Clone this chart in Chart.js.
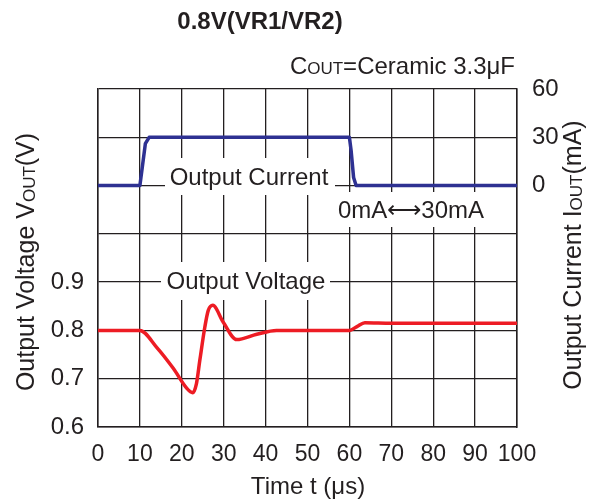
<!DOCTYPE html>
<html>
<head>
<meta charset="utf-8">
<script src="https://cdn.jsdelivr.net/npm/chart.js@4.4.1/dist/chart.umd.min.js"></script>
<style>
  html, body { margin: 0; padding: 0; background: #fff; }
  #wrap { width: 596px; height: 502px; }
</style>
</head>
<body>
<div id="wrap"><canvas id="chart" width="596" height="502"></canvas></div>
<script>
// time axis (us) and output voltage (V)
const timeV = [0, 10, 14, 18, 21.2, 22.6, 23.5, 24.3, 25.5, 26.3, 27.4, 29.9, 33.1, 37.9, 42.6, 60, 61.8, 63.7, 70, 100];
const voltage = [0.8, 0.8, 0.765, 0.721, 0.68, 0.671, 0.69, 0.738, 0.807, 0.841, 0.852, 0.817, 0.781, 0.792, 0.8, 0.8, 0.808, 0.816, 0.815, 0.815];

// load step 0mA <-> 30mA
const timeI = [0, 10, 10.6, 11.3, 12.2, 60, 60.4, 61, 61.6, 100];
const current = [0, 0, 12, 26, 30, 30, 22, 5, 0, 0];

const voltLabels = ['0.6', '0.7', '0.8', '0.9'];
const currLabels = ['0', '30', '60'];

const FONT = '"Liberation Sans", Arial, Helvetica, sans-serif';
const INK = '#231f20';

// draw text made of pieces with different sizes (for the small "OUT")
function drawRich(ctx, parts, x, y, rot, align) {
  ctx.save();
  ctx.translate(x, y);
  ctx.rotate(rot);
  let total = 0;
  parts.forEach(p => { ctx.font = p.font; p.w = ctx.measureText(p.text).width; total += p.w; });
  let cx = align === 'right' ? -total : align === 'left' ? 0 : -total / 2;
  ctx.textBaseline = 'middle';
  ctx.textAlign = 'left';
  ctx.fillStyle = INK;
  parts.forEach(p => {
    ctx.font = p.font;
    ctx.fillText(p.text, cx, p.dy || 0);
    cx += p.w;
  });
  ctx.restore();
}

const big = '24px ' + FONT;
const small = '17px ' + FONT;
const axisBig = '25px ' + FONT;
const axisSmall = '17px ' + FONT;

const labelsPlugin = {
  id: 'labels',
  beforeDatasetsDraw(chart) {
    const ctx = chart.ctx;
    // white boxes behind the in-plot labels
    ctx.save();
    ctx.fillStyle = '#fff';
    ctx.fillRect(165, 158, 170, 37);
    ctx.fillRect(330, 192, 172, 35);
    ctx.fillRect(161, 262, 169, 38);
    ctx.restore();
    drawRich(ctx, [{ text: 'Output Current', font: big }], 249, 178, 0, 'center');
    drawRich(ctx, [{ text: '0mA\u27F730mA', font: big }], 411, 211, 0, 'center');
    drawRich(ctx, [{ text: 'Output Voltage', font: big }], 246, 282, 0, 'center');
  },
  afterDraw(chart) {
    const ctx = chart.ctx;
    drawRich(ctx, [{ text: '0.8V(VR1/VR2)', font: 'bold 24px ' + FONT }], 260, 22, 0, 'center');
    drawRich(ctx, [
      { text: 'C', font: big },
      { text: 'OUT', font: small, dy: 2 },
      { text: '=Ceramic 3.3\u03BCF', font: big }
    ], 515, 67, 0, 'right');
    drawRich(ctx, [{ text: 'Time t (\u03BCs)', font: big }], 308, 487, 0, 'center');
    drawRich(ctx, [
      { text: 'Output Voltage V', font: axisBig },
      { text: 'OUT', font: axisSmall, dy: 3 },
      { text: '(V)', font: axisBig }
    ], 27, 262, -Math.PI / 2, 'center');
    drawRich(ctx, [
      { text: 'Output Current I', font: axisBig },
      { text: 'OUT', font: axisSmall, dy: 3 },
      { text: '(mA)', font: axisBig }
    ], 574, 255, -Math.PI / 2, 'center');
  }
};

const ctx = document.getElementById('chart').getContext('2d');
new Chart(ctx, {
  type: 'line',
  data: {
    datasets: [
      {
        label: 'Output Current',
        data: timeI.map((t, i) => ({ x: t, y: current[i] })),
        yAxisID: 'yI',
        borderColor: '#2e3192',
        borderWidth: 3.5,
        pointRadius: 0,
        tension: 0,
        borderJoinStyle: 'round'
      },
      {
        label: 'Output Voltage',
        data: timeV.map((t, i) => ({ x: t, y: voltage[i] })),
        yAxisID: 'yV',
        borderColor: '#ed1c24',
        borderWidth: 3.5,
        pointRadius: 0,
        cubicInterpolationMode: 'monotone',
        borderJoinStyle: 'round'
      }
    ]
  },
  options: {
    responsive: false,
    animation: false,
    devicePixelRatio: 1,
    layout: { padding: { top: 89, left: 0, right: 0, bottom: 0 } },
    plugins: { legend: { display: false }, tooltip: { enabled: false }, title: { display: false } },
    scales: {
      x: {
        type: 'linear',
        min: 0,
        max: 100,
        ticks: {
          stepSize: 10,
          autoSkip: false,
          color: INK,
          font: { family: FONT, size: 23 },
          padding: 14,
          maxRotation: 0
        },
        grid: { color: INK, lineWidth: 1.3, drawTicks: false },
        border: { color: INK, width: 1.5 },
        afterFit(scale) { scale.height = 75; }
      },
      yV: {
        position: 'left',
        min: 0.6,
        max: 1.3,
        ticks: {
          stepSize: 0.1,
          autoSkip: false,
          color: INK,
          font: { family: FONT, size: 24 },
          padding: 14,
          callback: (v, i) => voltLabels[i] || ''
        },
        grid: { color: INK, lineWidth: 1.3, drawTicks: false },
        border: { color: INK, width: 1.5 },
        afterFit(scale) { scale.width = 98; }
      },
      yI: {
        position: 'right',
        min: -150,
        max: 60,
        ticks: {
          stepSize: 30,
          autoSkip: false,
          color: INK,
          font: { family: FONT, size: 24 },
          padding: 15,
          callback: v => (v >= 0 ? currLabels[v / 30] : '')
        },
        grid: { display: false, drawTicks: false },
        border: { color: INK, width: 1.5 },
        afterFit(scale) { scale.width = 79; }
      }
    }
  },
  plugins: [labelsPlugin]
});
</script>
</body>
</html>
